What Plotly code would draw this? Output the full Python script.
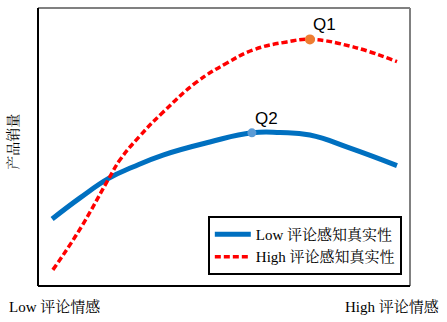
import plotly.graph_objects as go

# Data (arbitrary units)
low_x = [3.8, 11.3, 19.1, 25.5, 33.6, 46.2, 57.5, 65.1, 73.1, 83.9, 96.5]
low_y = [24.1, 31.7, 38.8, 42.8, 47.1, 51.8, 55.1, 55.2, 54.3, 49.6, 43.3]
high_x = [4.0, 11.3, 19.1, 22.0, 27.4, 33.6, 42.7, 50.8, 57.8, 66.9, 73.1, 84.7, 96.5]
high_y = [5.8, 20.5, 38.8, 45.3, 54.0, 62.5, 73.4, 80.2, 84.9, 87.8, 88.7, 86.0, 80.7]
q_labels = ["Q1", "Q2"]
q_x = [73.1, 57.5]
q_y = [88.7, 55.1]

low_name = "Low 评论感知真实性"
high_name = "High 评论感知真实性"
x_low_label = "Low 评论情感"
x_high_label = "High 评论情感"
y_title = "产品销量"

serif = "Liberation Serif, Times New Roman, Noto Serif CJK SC, Noto Sans CJK SC, serif"

fig = go.Figure()
fig.add_trace(go.Scatter(x=low_x, y=low_y, mode="lines", name=low_name,
                         line=dict(color="#0070C0", width=5, shape="spline", smoothing=1.3)))
fig.add_trace(go.Scatter(x=high_x, y=high_y, mode="lines", name=high_name,
                         line=dict(color="#FF0000", width=3.5, dash="6px,3px", shape="spline", smoothing=1.3)))
fig.add_trace(go.Scatter(x=[q_x[0]], y=[q_y[0]], mode="markers", showlegend=False,
                         marker=dict(color="#ED7D31", size=10)))
fig.add_trace(go.Scatter(x=[q_x[1]], y=[q_y[1]], mode="markers", showlegend=False,
                         marker=dict(color="#5B9BD5", size=9)))

for lab, xv, yv in zip(q_labels, q_x, q_y):
    fig.add_annotation(x=xv, y=yv, text=lab, showarrow=False, xanchor="left", yanchor="bottom",
                       xshift=1, yshift=3, font=dict(family="Liberation Sans, Arial", size=17, color="black"))

# frame
fig.add_shape(type="line", xref="paper", yref="paper", x0=0, x1=1, y0=1, y1=1, line=dict(color="#808080", width=2))
fig.add_shape(type="line", xref="paper", yref="paper", x0=1, x1=1, y0=0, y1=1, line=dict(color="#808080", width=2))
fig.add_shape(type="line", xref="paper", yref="paper", x0=0, x1=0, y0=0, y1=1, line=dict(color="black", width=2))
fig.add_shape(type="line", xref="paper", yref="paper", x0=0, x1=1, y0=0, y1=0, line=dict(color="black", width=2))

fig.add_annotation(xref="paper", yref="paper", x=-0.083, y=-0.075, text=x_low_label, showarrow=False,
                   xanchor="left", yanchor="middle", font=dict(family=serif, size=15, color="black"))
fig.add_annotation(xref="paper", yref="paper", x=1.083, y=-0.075, text=x_high_label, showarrow=False,
                   xanchor="right", yanchor="middle", font=dict(family=serif, size=15, color="black"))
fig.add_annotation(xref="paper", yref="paper", x=-0.068, y=0.518, text=y_title, showarrow=False,
                   textangle=-90, xanchor="center", yanchor="middle",
                   font=dict(family=serif, size=14, color="black"))

fig.update_layout(
    width=447, height=322,
    margin=dict(l=38, r=37, t=8, b=36),
    plot_bgcolor="white", paper_bgcolor="white",
    xaxis=dict(range=[0, 100], showgrid=False, zeroline=False, showticklabels=False, showline=False),
    yaxis=dict(range=[0, 100], showgrid=False, zeroline=False, showticklabels=False, showline=False),
    legend=dict(x=0.978, y=0.04, xanchor="right", yanchor="bottom",
                bordercolor="black", borderwidth=2, bgcolor="white",
                font=dict(family=serif, size=15, color="black"),
                itemwidth=36, tracegroupgap=0),
    showlegend=True,
)

fig.write_html("out.html")
